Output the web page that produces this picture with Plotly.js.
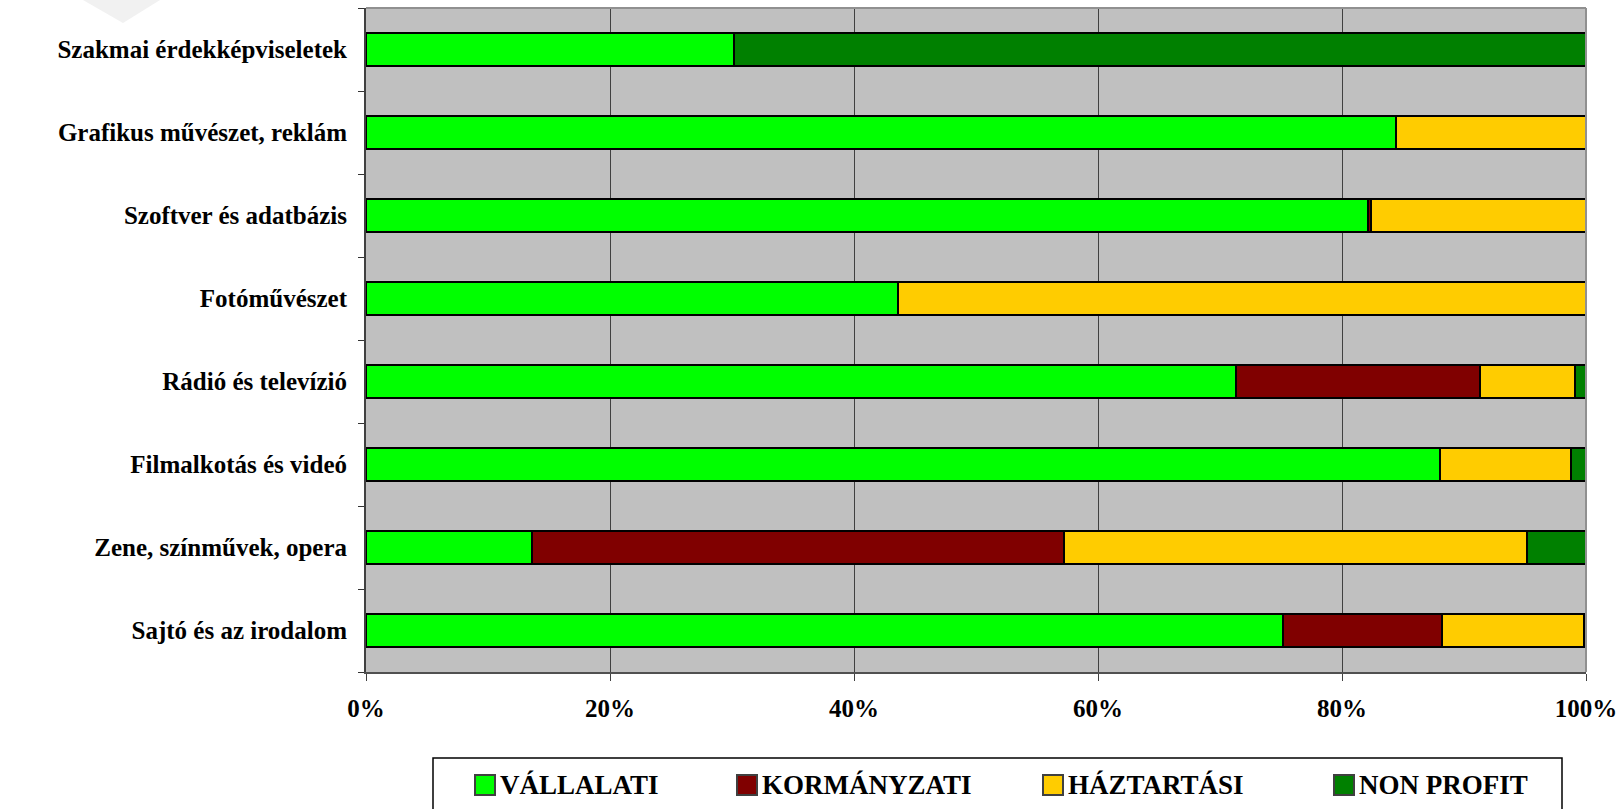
<!DOCTYPE html>
<html>
<head>
<meta charset="utf-8">
<script src="https://cdn.plot.ly/plotly-3.0.1.min.js"></script>
<style>
  html, body { margin: 0; padding: 0; background: #ffffff; }
  #chart { width: 1623px; height: 809px; }
</style>
</head>
<body>
<div id="chart"></div>
<script>
// Categories, bottom to top as drawn
var categories = [
  'Sajtó és az irodalom',
  'Zene, színművek, opera',
  'Filmalkotás és videó',
  'Rádió és televízió',
  'Fotóművészet',
  'Szoftver és adatbázis',
  'Grafikus művészet, reklám',
  'Szakmai érdekképviseletek'
];

// Shares in percent
var vallalati   = [75.2, 13.6, 88.0, 71.3, 43.6, 82.1, 84.4, 30.2];
var kormanyzati = [13.0, 43.6,  0.0, 20.0,  0.0,  0.3,  0.0,  0.0];
var haztartasi  = [11.6, 38.0, 10.8,  7.8, 56.4, 17.6, 15.6,  0.0];
var nonprofit   = [ 0.2,  4.8,  1.2,  0.9,  0.0,  0.0,  0.0, 69.8];

var seriesNames = ['VÁLLALATI', 'KORMÁNYZATI', 'HÁZTARTÁSI', 'NON PROFIT'];
var xTickVals = [0, 20, 40, 60, 80, 100];
var xTickText = ['0%', '20%', '40%', '60%', '80%', '100%'];

var colors = ['#00FF00', '#800000', '#FFCC00', '#008000'];
var seriesValues = [vallalati, kormanyzati, haztartasi, nonprofit];

var FONT = '"Liberation Serif", "Times New Roman", serif';

var traces = seriesValues.map(function (vals, i) {
  return {
    type: 'bar',
    orientation: 'h',
    name: seriesNames[i],
    y: categories,
    x: vals,
    marker: { color: colors[i], line: { color: '#000000', width: 2 } },
    hoverinfo: 'name+x',
    showlegend: false
  };
});

var W = 1623, H = 809;
var mL = 366, mR = 37, mT = 8, mB = 137;
var pw = W - mL - mR, ph = H - mT - mB;
function px(x) { return (x - mL) / pw; }
function py(y) { return (H - mB - y) / ph; }

// legend layout (pixel positions of each entry's swatch)
var legendSwatchX = [475, 737, 1043, 1334];

var shapes = [
  // plot frame top and right (lighter gray)
  { type: 'line', xref: 'paper', yref: 'paper', x0: 0, x1: 1, y0: 1, y1: 1,
    line: { color: '#909090', width: 2 } },
  { type: 'line', xref: 'paper', yref: 'paper', x0: 1, x1: 1, y0: 0, y1: 1,
    line: { color: '#909090', width: 2 } },
  // legend box
  { type: 'rect', xref: 'paper', yref: 'paper',
    x0: px(433), x1: px(1562), y0: py(758), y1: py(830),
    line: { color: '#000000', width: 1.5 }, fillcolor: 'rgba(0,0,0,0)' },
  // faint watermark chevron top-left
  { type: 'path', xref: 'paper', yref: 'paper',
    path: 'M ' + px(83) + ' ' + py(0) + ' L ' + px(160) + ' ' + py(0) +
          ' L ' + px(123) + ' ' + py(23) + ' Z',
    line: { width: 0 }, fillcolor: '#f1f1f1', layer: 'below' }
];
var annotations = [];
seriesNames.forEach(function (name, i) {
  var sx = legendSwatchX[i];
  shapes.push({
    type: 'rect', xref: 'paper', yref: 'paper',
    x0: px(sx), x1: px(sx + 20), y0: py(775), y1: py(795),
    line: { color: '#404040', width: 2 }, fillcolor: colors[i]
  });
  annotations.push({
    xref: 'paper', yref: 'paper', x: px(sx + 23), y: py(785),
    xanchor: 'left', yanchor: 'middle', showarrow: false,
    text: name,
    font: { family: FONT, size: 27, weight: 'bold', color: '#000000' }
  });
});

var layout = {
  width: W,
  height: H,
  margin: { l: mL, r: mR, t: mT, b: mB, pad: 0 },
  paper_bgcolor: '#ffffff',
  plot_bgcolor: '#C0C0C0',
  barmode: 'stack',
  bargap: 0.6,
  showlegend: false,
  font: { family: FONT, color: '#000000' },
  xaxis: {
    range: [0, 100],
    tickvals: xTickVals,
    ticktext: xTickText,
    ticks: 'outside',
    ticklen: 7,
    tickwidth: 1,
    tickcolor: '#404040',
    showline: true,
    linecolor: '#505050',
    linewidth: 2,
    showgrid: true,
    gridcolor: '#404040',
    gridwidth: 1,
    zeroline: false,
    automargin: false,
    ticklabelstandoff: 6,
    tickfont: { family: FONT, size: 25, weight: 'bold', color: '#000000' },
    fixedrange: true
  },
  yaxis: {
    type: 'category',
    tickson: 'boundaries',
    ticks: 'outside',
    ticklen: 6,
    tickwidth: 1,
    tickcolor: '#333333',
    showline: true,
    linecolor: '#404040',
    linewidth: 2,
    showgrid: false,
    zeroline: false,
    automargin: false,
    ticklabelstandoff: 12,
    tickfont: { family: FONT, size: 25, weight: 'bold', color: '#000000' },
    fixedrange: true
  },
  shapes: shapes,
  annotations: annotations
};

Plotly.newPlot('chart', traces, layout, { displayModeBar: false, staticPlot: true });
</script>
</body>
</html>
